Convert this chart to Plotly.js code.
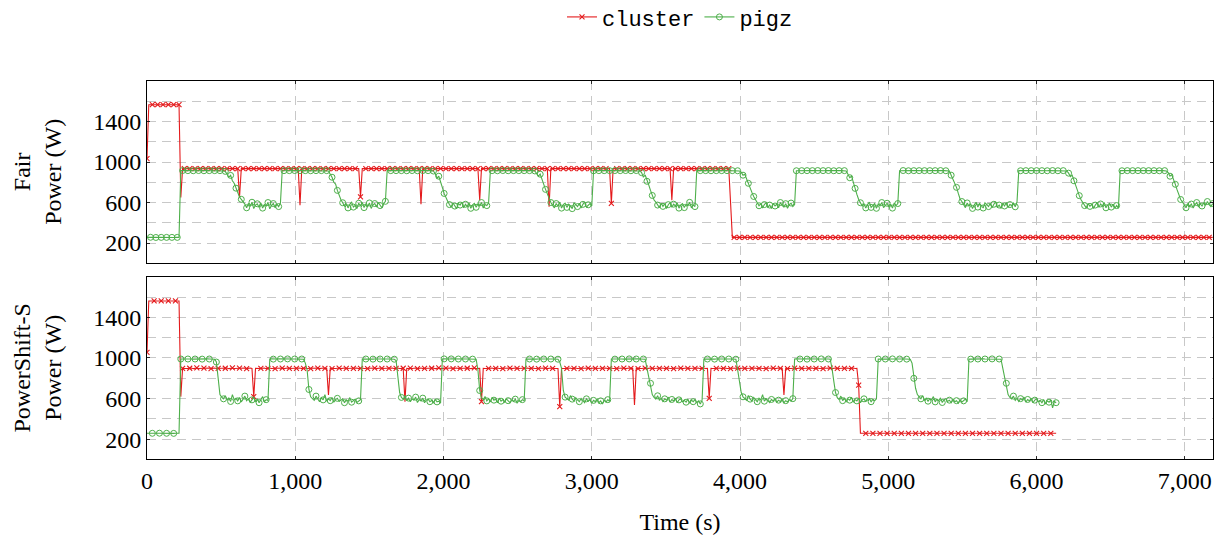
<!DOCTYPE html>
<html><head><meta charset="utf-8">
<script src="https://cdn.plot.ly/plotly-3.0.1.min.js"></script>
<style>html,body{margin:0;padding:0;background:#fff}</style>
</head><body><div id="chart" style="width:1216px;height:537px"></div>
<script>
// sampling clock of the recorded traces (seconds between samples)
const SAMPLE_STEP_S = 12;
const seriesNames = ['cluster', 'pigz'];
const panelTitles = ['Fair<br>Power (W)', 'PowerShift-S<br>Power (W)'];
const xTickVals = [0, 1000, 2000, 3000, 4000, 5000, 6000, 7000];
const yTickVals = [200, 600, 1000, 1400];
const yGridVals = [200, 400, 600, 800, 1000, 1200, 1400, 1600];

// ---------- Fair: cluster power (W) ----------
const clusterFair = [
1034,
1566,1566,1566,1566,1566,1566,1566,1566,1566,1566,1566,1566,1566,1566,1566,1566,1566,1566,
650,
935,935,935,935,935,935,935,935,935,935, 935,935,935,935,935,935,935,935,935,935, 935,935,935,935,935,935,935,935,935,935, 935,935,
650,
935,935,935,935,935,935,935,935,935,935, 935,935,935,935,935,935,935,935,935,935, 935,935,935,935,935,935,935,935,935,935, 935,935,935,
574,
935,935,935,935,935,935,935,935,935,935, 935,935,935,935,935,935,935,935,935,935, 935,935,935,935,935,935,935,935,935,935, 935,935,935,
656,
935,935,935,935,935,935,935,935,935,935, 935,935,935,935,935,935,935,935,935,935, 935,935,935,935,935,935,935,935,935,935, 935,935,935,
584,
935,935,935,935,935,935,935,935,935,935, 935,935,935,935,935,935,935,935,935,935, 935,935,935,935,935,935,935,935,935,935, 935,935,
624,
935,935,935,935,935,935,935,935,935,935, 935,935,935,935,935,935,935,935,935,935, 935,935,935,935,935,935,935,935,935,935, 935,935,935,935,935,935,935,935,
558,
935,935,935,935,935,935,935,935,935,935, 935,935,935,935,935,935,935,935,935,935, 935,935,935,935,935,935,935,935,935,935, 935,935,935,935,
591,
935,935,935,935,935,935,935,935,935,935, 935,935,935,935,935,935,935,935,935,935, 935,935,935,935,935,935,935,935,935,935, 935,935,935,
624,
935,935,935,935,935,935,935,935,935,935, 935,935,935,935,935,935,935,935,935,935, 935,935,935,935,935,935,935,935,935,935, 935,935,
600,
256,256,256,256,256,256,256,256,256,256, 256,256,256,256,256,256,256,256,256,256, 256,256,256,256,256,256,256,256,256,256,
256,256,256,256,256,256,256,256,256,256, 256,256,256,256,256,256,256,256,256,256, 256,256,256,256,256,256,256,256,256,256,
256,256,256,256,256,256,256,256,256,256, 256,256,256,256,256,256,256,256,256,256, 256,256,256,256,256,256,256,256,256,256,
256,256,256,256,256,256,256,256,256,256, 256,256,256,256,256,256,256,256,256,256, 256,256,256,256,256,256,256,256,256,256,
256,256,256,256,256,256,256,256,256,256, 256,256,256,256,256,256,256,256,256,256, 256,256,256,256,256,256,256,256,256,256,
256,256,256,256,256,256,256,256,256,256, 256,256,256,256,256,256,256,256,256,256, 256,256,256,256,256,256,256,256,256,256,
256,256,256,256,256,256,256,256,256,256, 256,256,256,256,256,256,256,256,256,256, 256,256,256,256,256,256,256,256,256,256,
256,256,256,256,256,256,256,256,256,256, 256,256,256,256,256,256,256,256,256,256, 256,256,256,256,256,256,256,256,256,256,
256,256,256,256,256,256,256,256,256,256, 256,256,256,256,256,256,256,256,256,256, 256,256,256,256,256,256,256,256,256,256,
256
];

// ---------- Fair: pigz power (W) ----------
const pigzFair = [
256,255,257,256,256,255,256,257,256,256,255,256,256,257,256,255,256,256,256,
915,916,914,915,915,916,915,914,915,915,916,915,915,914,915,916,915,915,914,915,915,916,915,914,912,908,
885,850,868,815,790,742,700,655,632,
610,585,548,592,560,603,540,575,588,552,596,545,580,565,600,538,572,590,548,585,560,595,
914,915,916,915,915,914,915,916,915,915,915,914,916,915,915,915,914,915,916,915,915,914,915,915,916,915,912,
880,850,800,782,720,670,628,
598,565,590,547,582,606,555,572,540,593,568,601,550,585,560,596,542,578,590,555,600,570,548,588,612,
915,914,915,916,915,915,914,915,915,916,915,914,915,915,916,915,915,914,915,915,916,915,914,915,915,915,911,
885,840,860,790,750,690,640,
612,580,552,596,565,540,590,575,605,548,583,560,598,543,578,592,553,587,566,600,545,580,570,595,
914,915,916,915,914,915,915,916,915,915,914,915,916,915,915,914,915,915,916,915,914,915,915,916,915,912,
890,860,880,820,780,730,680,630,
600,572,548,590,563,605,545,580,595,552,585,568,540,598,575,560,593,547,582,604,556,578,590,565,
914,915,916,915,915,914,915,916,915,915,915,914,916,915,915,915,914,915,916,915,915,914,915,915,916,915,912,
895,850,872,810,775,720,670,625,
605,575,550,593,562,588,540,579,600,553,584,566,597,545,576,590,550,583,568,602,547,575,560,
915,916,915,914,915,915,916,915,914,915,915,915,916,914,915,915,916,915,914,915,915,916,915,914,912,
900,870,880,830,790,750,700,660,625,
602,568,590,545,580,598,555,575,540,592,566,583,548,600,572,556,589,543,578,595,560,580,
914,915,916,915,915,914,915,916,915,915,914,915,916,915,915,915,914,915,916,915,915,914,915,916,915,915,914,915,911,
880,845,860,790,740,680,630,
598,565,588,547,580,604,552,575,590,543,585,568,600,550,577,593,556,582,545,596,570,590,
914,915,916,915,915,914,915,916,915,915,914,915,916,915,915,915,914,915,916,915,915,914,915,916,915,915,914,915,911,
870,835,790,750,690,635,
610,578,550,596,565,585,542,577,603,555,590,568,546,598,575,560,592,548,583,606,557,575,540,590,566,600,551,580,570,595,558,605,
915,914,915,916,915,915,914,915,916,915,915,914,915,915,916,915,914,915,915,916,915,915,914,915,916,915,915,912,
890,855,870,815,770,720,668,628,
600,570,545,590,562,583,540,575,598,552,586,565,600,548,578,592,555,583,544,570,545,
915,914,915,916,915,915,914,915,915,916,915,914,915,915,916,915,915,914,915,915,916,915,914,915,915,915,911,
895,860,875,815,780,725,670,630,
605,572,548,592,563,585,545,578,600,556,588,566,598,572,610,580,560,590
];

// ---------- PowerShift-S: cluster power (W) ----------
const clusterPS = [
1056,
1561,1561,1561,1561,1561,1561,1561,1561,1561,1561,1561,1561,1561,1561,1561,1561,1561,1561,
620,
898,896,900,897,899,901,895,898,902,897, 898,896,900,897,899,901,895,898,902,897, 898,896,900,897,899,901,895,898,902,897, 898,896,900,897,899,901,895,898,902,897,
619,
898,896,900,897,899,901,895,898,902,897, 898,896,900,897,899,901,895,898,902,897, 898,896,900,897,899,901,895,898,902,897, 898,896,900,897,899,901,895,898,902,897, 898,
636,
898,896,900,897,899,901,895,898,902,897, 898,896,900,897,899,901,895,898,902,897, 898,896,900,897,899,901,895,898,902,897, 898,896,900,897,899,901,895,898,902,897, 898,899,
570,
898,896,900,897,899,901,895,898,902,897, 898,896,900,897,899,901,895,898,902,897, 898,896,900,897,899,901,895,898,902,897, 898,896,900,897,899,901,895,898,902,897, 898,899,
570,
898,896,900,897,899,901,895,898,902,897, 898,896,900,897,899,901,895,898,902,897, 898,896,900,897,899,901,895,898,902,897, 898,896,900,897,899,901,895,898,902,897, 898,899,896,
521,
898,896,900,897,899,901,895,898,902,897, 898,896,900,897,899,901,895,898,902,897, 898,896,900,897,899,901,895,898,902,897, 898,896,900,897,899,901,895,898,902,897, 898,
537,
898,896,900,897,899,901,895,898,902,897, 898,896,900,897,899,901,895,898,902,897, 898,896,900,897,899,901,895,898,902,897, 898,896,900,897,899,901,895,898,902,897, 898,
603,
898,896,900,897,899,901,895,898,902,897, 898,896,900,897,899,901,895,898,902,897, 898,896,900,897,899,901,895,898,902,897, 898,896,900,897,899,901,895,898,902,897, 898,
636,
898,896,900,897,899,901,895,898,902,897, 898,896,900,897,899,901,895,898,902,897, 898,896,900,897,899,901,895,898,902,897, 898,896,900,897,899,901,895,898,902,897, 898,
734,
259,259,259,259,259,259,259,259,259,259, 259,259,259,259,259,259,259,259,259,259, 259,259,259,259,259,259,259,259,259,259,
259,259,259,259,259,259,259,259,259,259, 259,259,259,259,259,259,259,259,259,259, 259,259,259,259,259,259,259,259,259,259,
259,259,259,259,259,259,259,259,259,259, 259,259,259,259,259,259,259,259,259,259, 259,259,259,259,259,259,259,259,259,259,
259,259,259,259,259,259,259,259,259,259, 259,259,259,259,259,259,259,259,259,259, 259
];

// ---------- PowerShift-S: pigz power (W) ----------
const pigzPS = [
259,258,260,259,259,258,259,260,259,259,258,259,259,260,259,258,259,259,259,
990,991,989,990,990,991,990,989,990,990,991,990,989,990,990,991,990,989,990,988,
960,767,640,
615,598,630,585,607,572,640,590,603,578,612,568,595,625,580,600,565,588,610,573,598,560,585,620,570,590,582,
990,991,989,990,990,991,990,989,990,990,991,990,989,990,990,991,990,989,990,988,
950,882,690,
618,600,583,625,592,570,608,588,640,575,597,580,612,565,590,603,572,585,598,560,588,575,610,565,580,595,562,578,590,
990,989,990,991,990,990,989,990,991,990,990,989,990,991,990,990,989,990,988,
975,820,660,
612,595,628,580,605,570,598,585,615,562,590,578,605,560,585,598,570,582,560,592,568,575,555,
990,991,989,990,990,991,990,989,990,990,991,990,989,990,990,991,990,989,990,988,
882,680,
610,590,622,578,600,568,612,585,595,560,605,575,590,565,598,580,560,588,572,595,555,582,570,590,578,
990,989,990,991,990,990,989,990,991,990,990,989,990,991,990,990,989,990,988,
960,898,680,
615,600,585,630,595,578,610,588,570,602,585,560,598,575,590,555,583,570,595,560,578,548,585,565,590,572,
990,991,989,990,990,991,990,989,990,990,991,990,989,990,990,991,990,989,990,988,
900,820,751,640,
612,595,628,583,605,572,598,585,615,565,592,578,604,560,588,598,570,582,565,595,555,585,570,590,560,578,548,585,
990,989,990,991,990,990,989,990,991,990,990,989,990,991,990,990,989,990,988,
882,780,660,
618,600,585,632,595,578,612,590,570,605,588,640,575,598,580,562,592,575,605,565,585,570,595,560,580,568,590,575,600,
990,991,989,990,990,991,990,989,990,990,991,990,989,990,990,991,990,989,990,990,988,
900,774,660,
610,592,625,580,603,570,598,585,612,565,590,578,604,560,588,598,572,585,600,570,592,580,598,
990,989,990,991,990,990,989,990,991,990,990,989,990,991,990,990,989,990,988,
950,800,702,640,
615,598,630,585,605,575,600,588,620,568,595,580,608,562,590,600,572,585,560,595,570,580,555,588,565,578,595,570,
990,989,990,991,990,990,989,990,991,990,990,989,990,991,990,990,989,990,988,
900,820,751,640,
612,598,625,583,605,572,600,588,615,566,592,578,604,560,585,598,570,582,560,590,548,578,565,585,510,572,560
];

const RED = 'rgb(228,26,28)';
const GREEN = 'rgb(77,175,74)';
const timeOf = arr => arr.map((_, i) => i * SAMPLE_STEP_S);

function clusterTrace(vals, xa, ya, show) {
  return {
    type: 'scatter', mode: 'lines+markers', name: seriesNames[0],
    x: timeOf(vals), y: vals, xaxis: xa, yaxis: ya, showlegend: show,
    line: {color: RED, width: 1.1},
    marker: {symbol: 'x-thin-open', size: 5, color: RED,
             line: {color: RED, width: 1.1},
             maxdisplayed: Math.floor(vals.length / 3)}
  };
}
function pigzTrace(vals, xa, ya, show) {
  return {
    type: 'scatter', mode: 'lines+markers', name: seriesNames[1],
    x: timeOf(vals), y: vals, xaxis: xa, yaxis: ya, showlegend: show,
    line: {color: GREEN, width: 1.1},
    marker: {symbol: 'circle-open', size: 6, color: GREEN,
             line: {color: GREEN, width: 1},
             maxdisplayed: Math.floor(vals.length / 3)}
  };
}

const data = [
  clusterTrace(clusterFair, 'x', 'y', true),
  pigzTrace(pigzFair, 'x', 'y', true),
  clusterTrace(clusterPS, 'x2', 'y2', false),
  pigzTrace(pigzPS, 'x2', 'y2', false)
];

const SERIF = 'Liberation Serif';
const gridCol = 'rgb(200,200,200)';
const gridDash = '9px,6px';

function xAxis(anchor, labels) {
  return {
    anchor: anchor, domain: [0, 1], range: [0, 7190], automargin: false,
    tickmode: 'array', tickvals: xTickVals,
    ticktext: xTickVals.map(v => v.toLocaleString('en-US')),
    showticklabels: labels,
    showgrid: true, gridcolor: gridCol, griddash: gridDash, gridwidth: 1,
    zeroline: false, showline: true, linecolor: 'black', linewidth: 1, mirror: 'ticks',
    ticks: 'inside', ticklen: 3, tickcolor: 'black', tickwidth: 0.8,
    tickfont: {family: SERIF, size: 24, color: 'black'}
  };
}
function yAxis(anchor, domain, title) {
  return {
    anchor: anchor, domain: domain, range: [6, 1800], automargin: false,
    tickmode: 'array', tickvals: yTickVals, ticktext: yTickVals.map(String),
    minor: {tickmode: 'array', tickvals: yGridVals, showgrid: true,
            gridcolor: gridCol, griddash: gridDash, gridwidth: 1, ticks: ''},
    showgrid: true, gridcolor: gridCol, griddash: gridDash, gridwidth: 1,
    zeroline: false, showline: true, linecolor: 'black', linewidth: 1, mirror: 'ticks',
    ticks: 'inside', ticklen: 3, tickcolor: 'black', tickwidth: 0.8,
    tickfont: {family: SERIF, size: 24, color: 'black'},
    title: {text: title, font: {family: SERIF, size: 24, color: 'black'}, standoff: 24}
  };
}

const layout = {
  width: 1216, height: 537,
  margin: {l: 147, r: 3, t: 81, b: 78, autoexpand: false},
  paper_bgcolor: 'white', plot_bgcolor: 'white',
  font: {family: SERIF, size: 24, color: 'black'},
  showlegend: true,
  legend: {orientation: 'h', x: 0.5, xanchor: 'center', y: 1.169, yanchor: 'middle',
           bgcolor: 'rgba(0,0,0,0)',
           font: {family: 'Liberation Mono', size: 22, color: 'black'}},
  xaxis: xAxis('y', false),
  xaxis2: Object.assign(xAxis('y2', true), {matches: 'x',
           title: {text: 'Time (s)', font: {family: SERIF, size: 24, color: 'black'}, standoff: 20}}),
  yaxis: yAxis('x', [0.5193, 1], panelTitles[0]),
  yaxis2: yAxis('x2', [0, 0.4823], panelTitles[1])
};

Plotly.newPlot('chart', data, layout, {staticPlot: true, displayModeBar: false});
</script>
</body></html>
